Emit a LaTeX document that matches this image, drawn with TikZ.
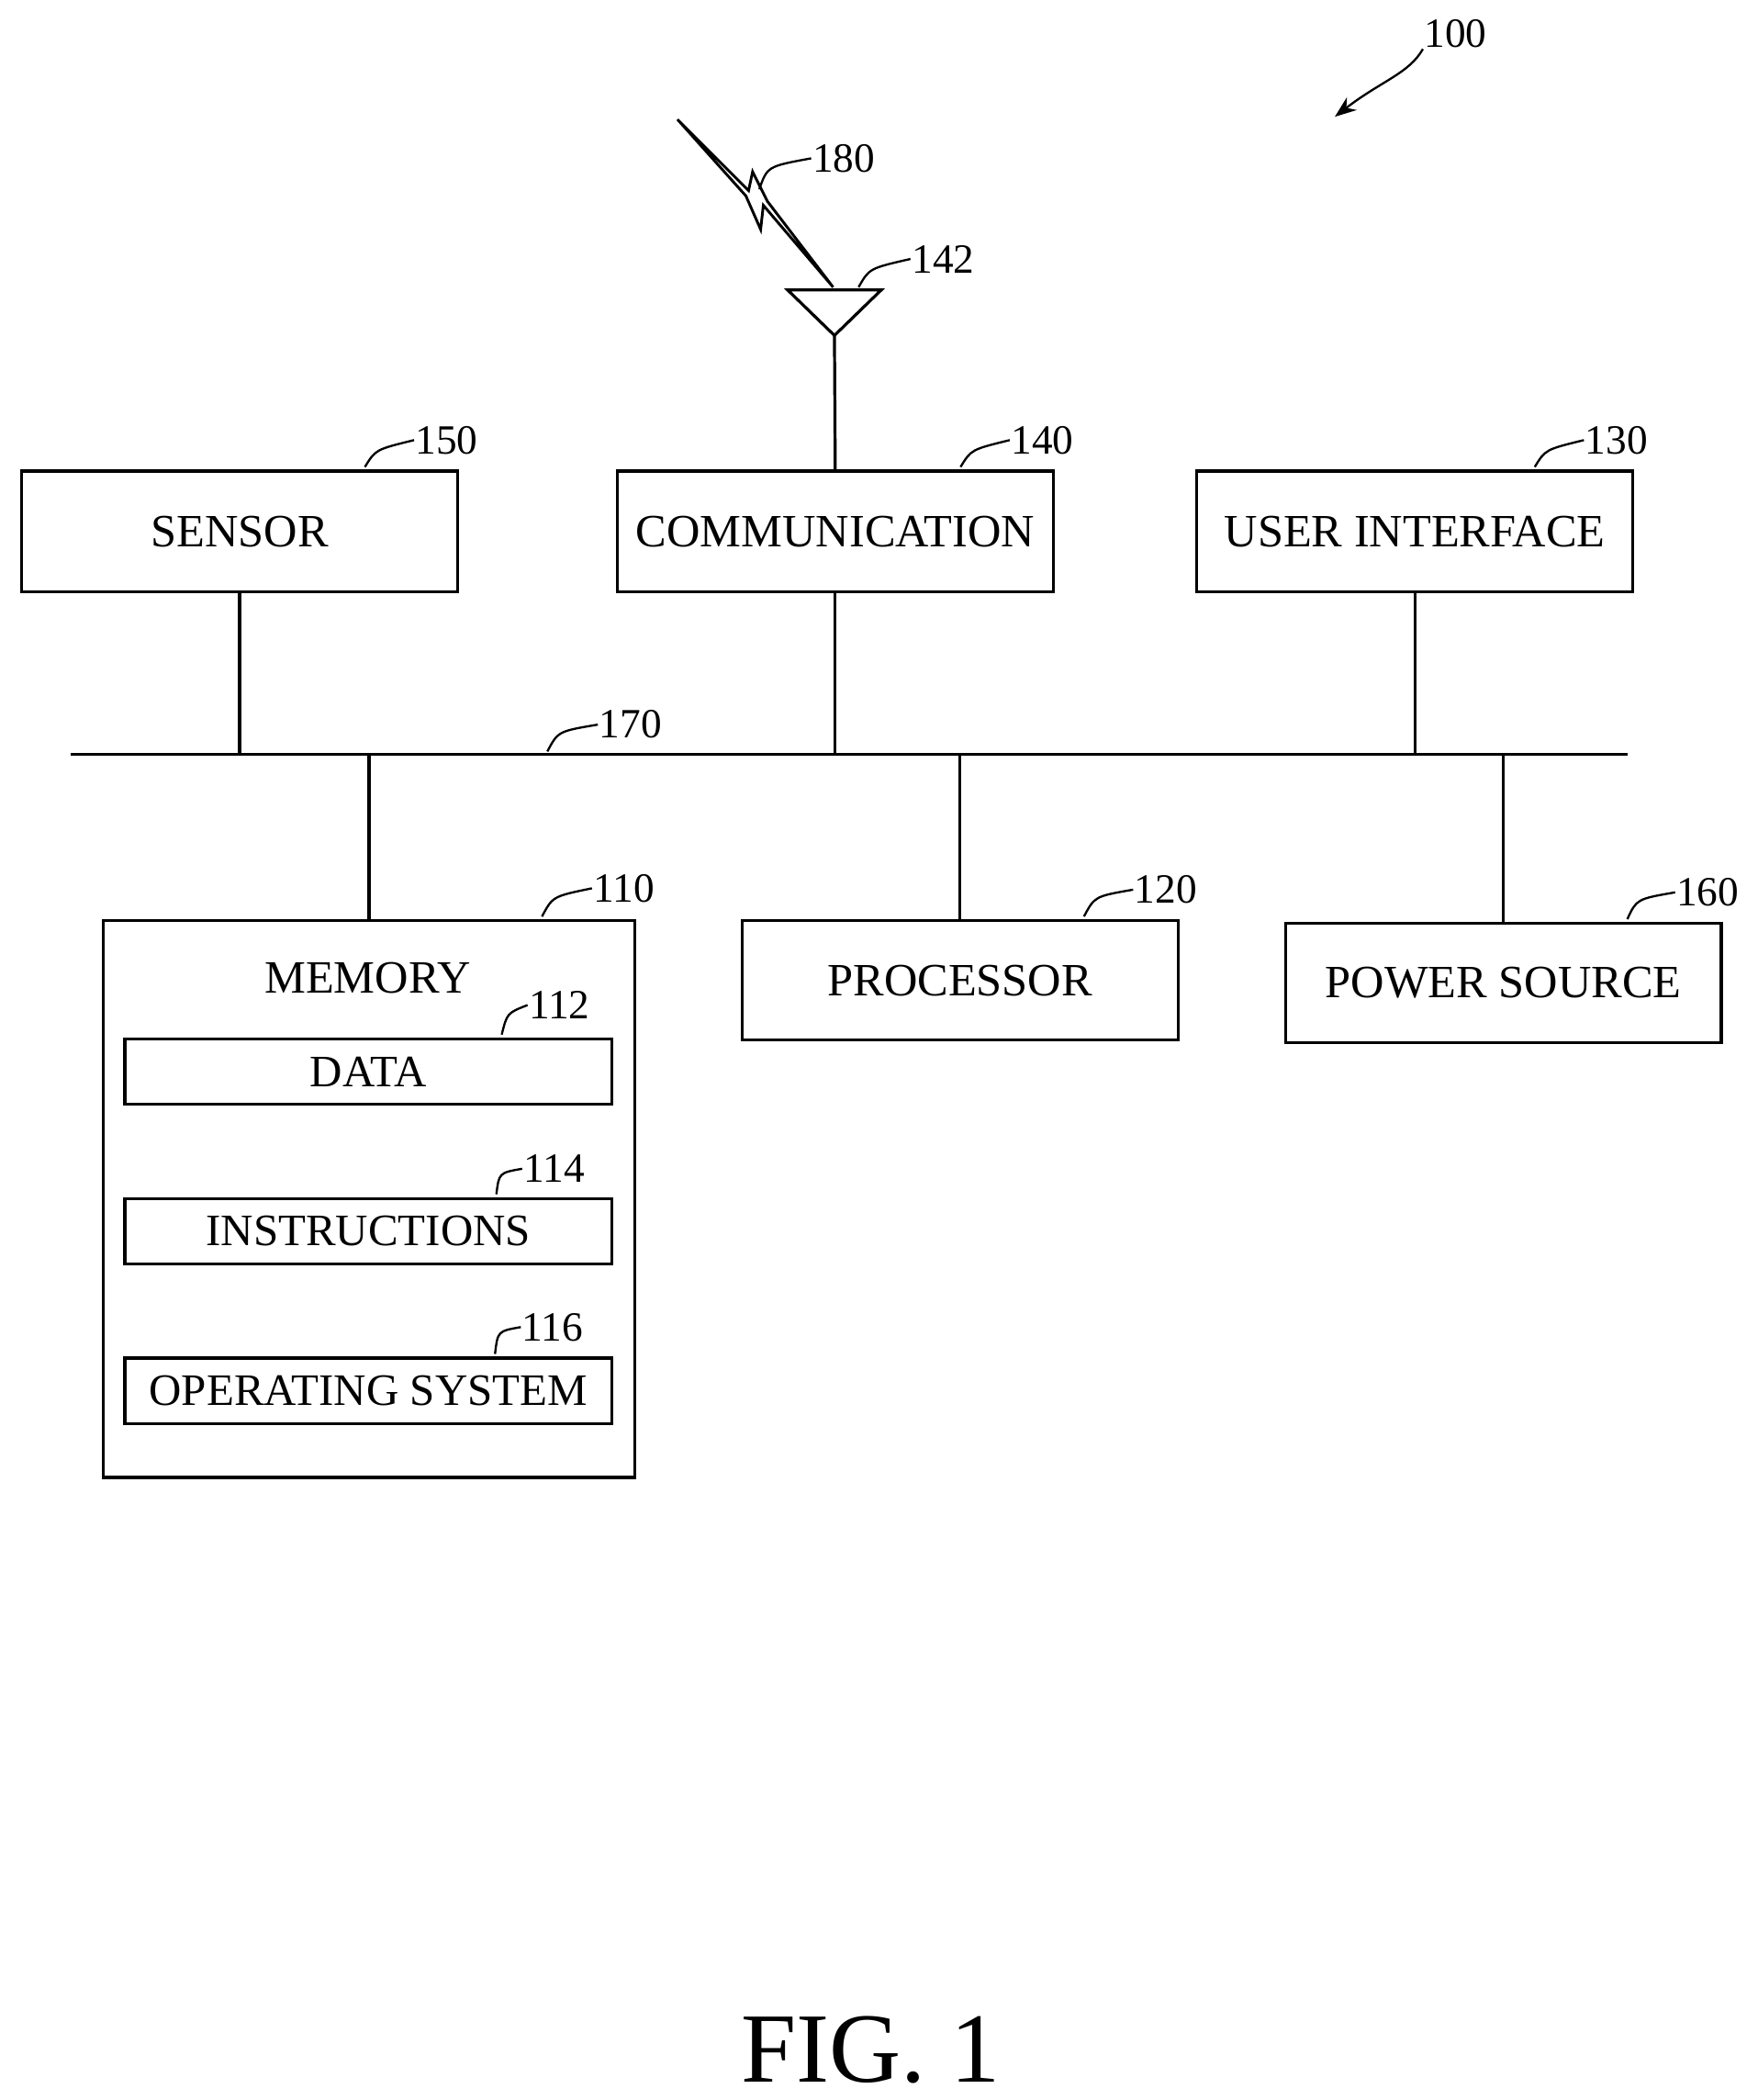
\documentclass[tikz,border=0pt]{standalone}
\usepackage{fontspec}
\setmainfont{Liberation Serif}
\usetikzlibrary{arrows.meta}
\begin{document}
\begin{tikzpicture}[x=1pt,y=-1pt,line width=2.2pt,
 box/.style={draw,rectangle,minimum width=325pt,minimum height=90pt,font=\fontsize{34.5}{38}\selectfont,anchor=north west,inner sep=0},
 sbox/.style={draw,rectangle,minimum width=363pt,minimum height=49pt,font=\fontsize{33.5}{38}\selectfont,anchor=north west,inner sep=0},
 lbl/.style={font=\fontsize{31}{34}\selectfont,inner sep=0},
 lead/.style={line width=1.6pt}]
\useasboundingbox (0,0) rectangle (1310,1565);
\node[box] (sen) at (15,350) {SENSOR};
\node[box] (com) at (459,350) {COMMUNICATION};
\node[box] (ui) at (891,350) {USER INTERFACE};
\node[draw,rectangle,minimum width=396pt,minimum height=415pt,anchor=north west] (mem) at (76,685) {};
\node[font=\fontsize{34.5}{38}\selectfont] (memt) at (274,729) {MEMORY};
\node[sbox] (data) at (92,773) {DATA};
\node[sbox] (ins) at (92,892) {INSTRUCTIONS};
\node[sbox] (os) at (92,1011) {OPERATING SYSTEM};
\node[box,minimum height=89pt] (pro) at (552,685) {PROCESSOR};
\node[box,minimum height=89pt] (pow) at (957,687) {POWER SOURCE};
\coordinate (bl) at (53,562); \coordinate (br) at (1213,562);
\draw (bl) -- (br);
\draw (sen.south) -- (sen.south |- bl);
\draw (com.south) -- (com.south |- bl);
\draw (ui.south) -- (ui.south |- bl);
\draw (mem.north) -- (mem.north |- bl);
\draw (pro.north) -- (pro.north |- bl);
\draw (pow.north) -- (pow.north |- bl);
% antenna
\coordinate (ta) at (587,216); \coordinate (tb) at (657,216); \coordinate (tc) at (622,250);
\draw (ta) -- (tb) -- (tc) -- cycle;
\draw (tc) -- (com.north);
\draw[line width=2pt,line join=miter] (505,89) -- (556,146) -- (567,171) -- (569,153) -- (621,214) -- (572,150) -- (561,128) -- (558,142) -- cycle;
% labels
\node[lbl] (l150) at (333,328) {150}; \draw[lead] (272,348) .. controls (280,335) .. (l150.west);
\node[lbl] (l140) at (777,328) {140}; \draw[lead] (716,348) .. controls (724,335) .. (l140.west);
\node[lbl] (l130) at (1205,328) {130}; \draw[lead] (1144,348) .. controls (1152,335) .. (l130.west);
\node[lbl] (l170) at (470,540) {170}; \draw[lead] (408,560) .. controls (416,545) .. (l170.west);
\node[lbl] (l110) at (465,662) {110}; \draw[lead] (404,683) .. controls (412,668) .. (l110.west);
\node[lbl] (l120) at (869,663) {120}; \draw[lead] (808,683) .. controls (816,668) .. (l120.west);
\node[lbl] (l160) at (1273,665) {160}; \draw[lead] (1213,685) .. controls (1220,670) .. (l160.west);
\node[lbl] (l112) at (417,749) {112}; \draw[lead] (374,771) .. controls (378,755) .. (l112.west);
\node[lbl] (l114) at (413,871) {114}; \draw[lead] (370,890) .. controls (372,874) .. (l114.west);
\node[lbl] (l116) at (412,989) {116}; \draw[lead] (369,1009) .. controls (371,992) .. (l116.west);
\node[lbl] (l142) at (703,193) {142}; \draw[lead] (640,214) .. controls (648,200) .. (l142.west);
\node[lbl] (l180) at (629,118) {180}; \draw[lead] (566,141) .. controls (572,124) .. (l180.west);
\node[lbl] (l100) at (1085,25) {100};
\draw[lead,-{Stealth[length=16pt,width=12pt]}] (l100.south west) .. controls (1050,55) and (1030,60) .. (995,87);
\node[font=\fontsize{74}{80}\selectfont] (fig) at (649,1528) {FIG. 1};
\end{tikzpicture}
\end{document}
